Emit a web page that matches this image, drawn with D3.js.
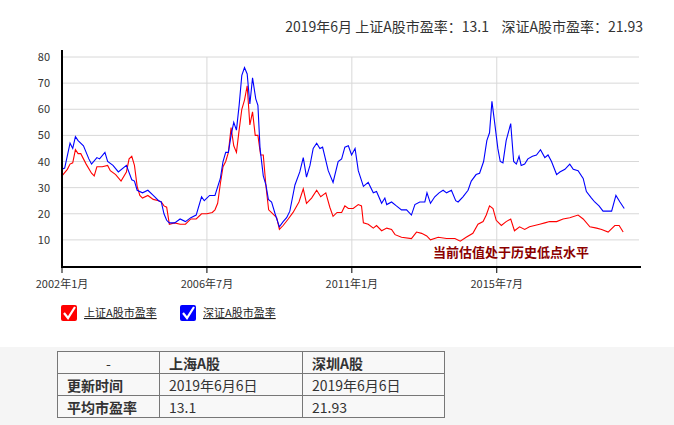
<!DOCTYPE html>
<html>
<head>
<meta charset="utf-8">
<script src="https://d3js.org/d3.v7.min.js"></script>
<style>
body{margin:0;font-family:"Noto Sans CJK SC","Liberation Sans",sans-serif;background:#fff;}
#chart{position:absolute;left:0;top:0;}
#bottom{position:absolute;left:0;top:347px;width:674px;height:78px;background:#f5f5f5;}
table{position:absolute;left:57px;top:351px;border-collapse:collapse;font-size:14px;color:#333;background:#f8f8f8;}
td{border:1px solid #777;height:21px;padding:0 9px;line-height:20px;}
td.b{font-weight:bold;}
</style>
</head>
<body>
<div id="bottom"></div>
<svg id="chart" width="674" height="347"></svg>
<table>
<tr><td style="width:83px;text-align:center">-</td><td class="b" style="width:124px">上海A股</td><td class="b" style="width:123px">深圳A股</td></tr>
<tr><td class="b">更新时间</td><td>2019年6月6日</td><td>2019年6月6日</td></tr>
<tr><td class="b">平均市盈率</td><td>13.1</td><td>21.93</td></tr>
</table>
<script>
// month index from 2002-01, PE value
var shData = [[0,34.5],[2,37],[3,39],[4,39.5],[5,44.5],[6,43],[7,43],[9,39],[11,35.5],[12,34.5],[13,38],[15,38],[17,38.5],[18,36.5],[20,35],[22,32.5],[24,36],[25,41],[26,42],[27,38.5],[28,30.5],[29,27],[30,26],[32,27],[34,25.5],[36,25],[37,24.5],[38,23],[39,22.5],[40,16],[42,16.5],[44,16],[46,16],[48,18],[50,18],[52,20],[54,20],[56,20.5],[57,21.5],[58,24],[59,31.5],[60,38],[61,40],[62,43.5],[63,53],[64,46],[65,43.5],[66,52],[67,60],[68,63.5],[69,69],[70,54],[71,59],[72,50],[73,50],[74,42.5],[75,42.5],[76,30.5],[77,21.5],[78,20.5],[80,18.5],[81,14],[82.4,15.5],[84.3,18],[86.1,20.5],[88.3,24.5],[89.9,29.5],[91.1,24],[93,26],[94.9,29],[96.4,26.5],[98.3,28],[99.8,22.5],[101,19],[102.5,20.5],[104.2,20.5],[105.4,23],[106.7,22],[108.5,22],[110.4,23.5],[111.6,23],[112.3,16.5],[114.1,16],[116,14.5],[117.2,15.5],[119.1,13.5],[121,14.5],[122.8,14],[124.1,12],[126.5,11],[130.2,10.5],[132.1,13],[134,12.5],[135.9,11.5],[137.3,10],[140.2,11],[143.3,10.5],[146.4,10.5],[148.4,9.5],[150.6,11],[153.1,12.5],[155,16],[156.9,17],[158.1,19.5],[159.3,23],[160.6,22],[161.8,17.5],[163.7,15.5],[165.5,17],[167.2,18],[168.6,13.5],[170.5,15],[172.4,14],[174.2,15],[176.1,15.5],[178,16],[179.9,16.5],[181.7,17],[184.3,17],[186.7,18],[189.2,18.5],[192.3,19.5],[194.2,18],[196.7,15],[199.2,14.5],[201.1,14],[203.5,13],[206,15.5],[207.6,15.5],[209.1,13]];
var szData = [[0,37],[1,37.5],[3,47],[4,45],[5,49.5],[6,48],[8,46],[10,41],[11,39],[13,41.5],[14,41],[16,43.5],[17,40],[19,38.5],[21,36],[24,38.5],[26,33],[27,32.5],[28,29],[30,28],[32,29],[34,27],[36,25],[37,24.5],[38,20],[39,17.5],[40,16.5],[42,16.5],[44,18],[46,17],[48,18.5],[50,19.5],[52,26.5],[53,25],[55,27],[57,27],[59,33.5],[60,40],[61,43.5],[62,43.5],[63,50],[64,55],[65,52],[66,61.5],[67,73],[68,76],[69,73.5],[70,62],[71,72],[72.2,64],[73,61.5],[73.8,45],[75,34.5],[76,31],[76.9,25.5],[78.1,24.5],[79.4,20],[81,15],[82.4,17],[83.7,18.5],[84.9,21],[86.8,31],[88.6,36],[89.9,41.5],[91.1,34],[92.4,38.5],[93.6,45],[94.9,47],[96.1,45],[97.1,45.5],[99.2,36.5],[101,32],[102.9,40],[104.2,41],[105.4,45.5],[106.7,46],[107.9,42.5],[109.2,45],[110.4,36.5],[112.3,30.5],[114.1,32],[116,28],[117.2,28.5],[119.1,24],[120.3,26],[121,23.5],[122.8,24.5],[124.6,23],[126.5,21.5],[128.4,21.5],[130.2,19.5],[131.5,23.5],[133.3,24.5],[135.2,24.5],[136,28],[137.3,24],[138.9,26.5],[140.5,28],[142,29],[143.3,28],[145.1,29],[146.7,25],[147.6,24.5],[149.4,26.5],[151.3,29],[152.5,32.5],[154.3,35],[155.6,35.5],[157.1,40],[158.3,48],[159.3,51],[160.2,63],[161.2,55],[162.4,45],[163.3,40],[164.3,39.5],[165.5,48],[167.2,54.5],[168.3,40],[169.3,39],[170.3,42],[171.1,38.5],[172.4,39],[173.6,41],[175.3,42],[176.8,42.5],[178.3,44.5],[179.9,41.5],[181.1,42.5],[182.4,40],[184.3,35],[185.5,36],[187.4,37],[189.2,39],[190.5,37],[192.3,36.5],[194.2,33.5],[195.4,28.5],[197.3,26],[198.5,24.5],[200.1,23],[201.6,21],[203.1,21],[204.8,21],[206.4,27],[207.9,24.5],[209.5,22]];
var yTicks = [10,20,30,40,50,60,70,80];
var xTickMonths = [0,54,108,162];
var xTickLabels = ["2002年1月","2006年7月","2011年1月","2015年7月"];

var svg = d3.select("#chart");
var x = d3.scaleLinear().domain([0,215]).range([62,639]);
var y = d3.scaleLinear().domain([0,80]).range([266,57]);

svg.append("g").selectAll("line").data(yTicks).join("line")
  .attr("x1",62).attr("x2",639).attr("y1",d=>y(d)).attr("y2",d=>y(d))
  .attr("stroke","#d8d8d8");
svg.append("g").selectAll("line").data(xTickMonths).join("line")
  .attr("x1",d=>x(d)).attr("x2",d=>x(d)).attr("y1",57).attr("y2",266)
  .attr("stroke","#d8d8d8");

svg.append("g").selectAll("text").data(yTicks).join("text")
  .attr("x",50).attr("y",d=>y(d)+4).attr("text-anchor","end")
  .attr("font-size",11).attr("fill","#333").text(d=>d);
svg.append("g").selectAll("text").data(xTickMonths).join("text")
  .attr("x",d=>x(d)).attr("y",288).attr("text-anchor","middle")
  .attr("font-size",11).attr("fill","#333").text((d,i)=>xTickLabels[i]);
svg.append("g").selectAll("line").data(xTickMonths).join("line")
  .attr("x1",d=>x(d)).attr("x2",d=>x(d)).attr("y1",267).attr("y2",273).attr("stroke","#000");

var line = d3.line().x(d=>x(d[0])).y(d=>y(d[1]));
svg.append("path").datum(shData).attr("d",line).attr("fill","none").attr("stroke","#ff0000").attr("stroke-width",1.1);
svg.append("path").datum(szData).attr("d",line).attr("fill","none").attr("stroke","#0000ff").attr("stroke-width",1.1);

svg.append("line").attr("x1",62).attr("x2",62).attr("y1",50).attr("y2",268).attr("stroke","#000").attr("stroke-width",2);
svg.append("line").attr("x1",61).attr("x2",641).attr("y1",267).attr("y2",267).attr("stroke","#000").attr("stroke-width",2);

svg.append("text").attr("x",643).attr("y",32).attr("text-anchor","end").attr("font-size",14).attr("fill","#333")
  .attr("xml:space","preserve").text("2019年6月 上证A股市盈率：13.1    深证A股市盈率：21.93");
svg.append("text").attr("x",433).attr("y",257).attr("font-size",13).attr("font-weight","bold").attr("fill","#8b0000")
  .text("当前估值处于历史低点水平");

var legend = [["上证A股市盈率","#ff0000",61],["深证A股市盈率","#0000ff",180]];
legend.forEach(function(l){
  var g = svg.append("g").attr("transform","translate("+l[2]+",305)");
  g.append("rect").attr("width",16).attr("height",16).attr("rx",2).attr("fill",l[1]);
  g.append("path").attr("d","M3,8 L7,13 L14,2").attr("fill","none").attr("stroke","#fff").attr("stroke-width",2.2);
  g.append("text").attr("x",23).attr("y",12).attr("font-size",11).attr("fill","#222")
    .attr("text-decoration","underline").text(l[0]);
});
</script>
</body>
</html>
